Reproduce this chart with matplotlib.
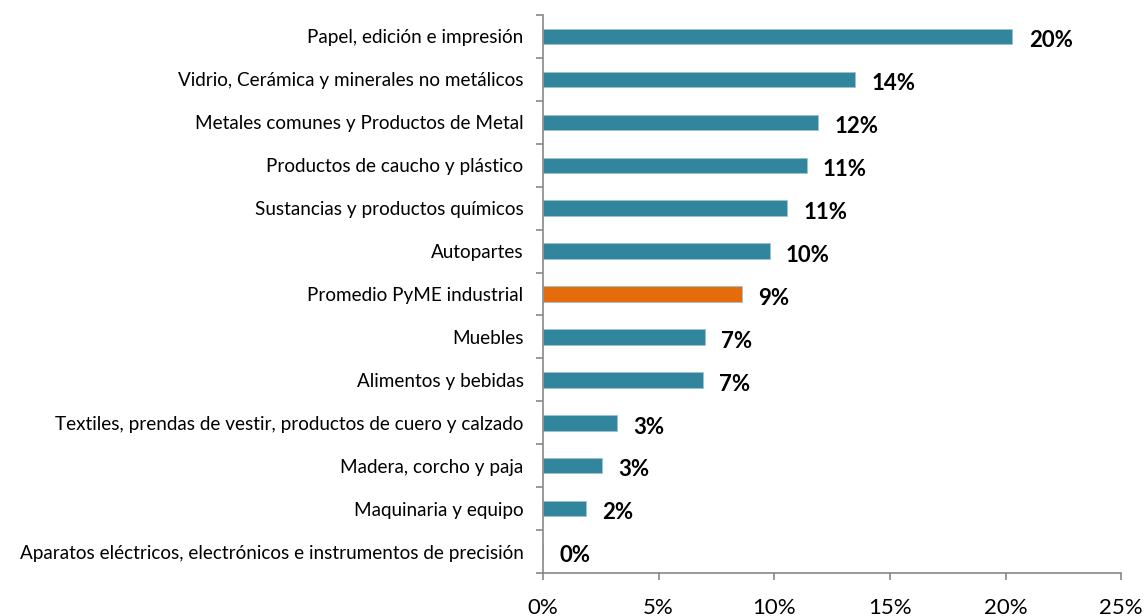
#!/usr/bin/env python
# -*- coding: utf-8 -*-

"""Barras horizontales por sector"""

from matplotlib import pyplot as plt
from matplotlib.ticker import FixedLocator, PercentFormatter
import numpy as np

sectores = [
	'Papel, edición e impresión',
	'Vidrio, Cerámica y minerales no metálicos',
	'Metales comunes y Productos de Metal',
	'Productos de caucho y plástico',
	'Sustancias y productos químicos',
	'Autopartes',
	'Promedio PyME industrial',
	'Muebles',
	'Alimentos y bebidas',
	'Textiles, prendas de vestir, productos de cuero y calzado',
	'Madera, corcho y paja',
	'Maquinaria y equipo',
	'Aparatos eléctricos, electrónicos e instrumentos de precisión',
]
valores = [20.3, 13.5, 11.9, 11.4, 10.55, 9.8, 8.6, 7.0, 6.9, 3.2, 2.55, 1.85, 0.0]
etiquetas = ['20%', '14%', '12%', '11%', '11%', '10%', '9%', '7%', '7%', '3%', '3%', '2%', '0%']
x_ticks = [0, 5, 10, 15, 20, 25]

azul = '#31859C'
naranja = '#E46C0A'
fuente = ['Lato', 'DejaVu Sans']

fig = plt.figure(figsize=(11.46, 6.16), dpi=100)
ax = fig.add_axes([0.4738, 0.0698, 0.5045, 0.9058])

y = np.arange(len(sectores))
colores = [naranja if s.startswith('Promedio') else azul for s in sectores]
ax.barh(y, valores, height=0.36, color=colores, edgecolor='#9DC3D0', linewidth=0.6)

for yi, v, t in zip(y, valores, etiquetas):
	ax.text(v + 0.7, yi + 0.1, t, ha='left', va='center', fontsize=16,
			fontweight='bold', family=fuente, color='black')

ax.set_xlim(0, 25)
ax.set_ylim(len(sectores) - 0.5, -0.5)
ax.xaxis.set_major_locator(FixedLocator(x_ticks))
ax.xaxis.set_major_formatter(PercentFormatter(decimals=0))
ax.set_yticks(y)
ax.set_yticklabels(sectores, family=fuente, fontsize=13.6)
ax.set_yticks(np.arange(-0.5, len(sectores)), minor=True)

for lado in ('top', 'right'):
	ax.spines[lado].set_visible(False)
for lado in ('left', 'bottom'):
	ax.spines[lado].set_color('#888888')
	ax.spines[lado].set_linewidth(1.2)

ax.tick_params(axis='y', which='major', length=0, pad=14)
ax.tick_params(axis='y', which='minor', length=5, color='#888888', width=1.2)
ax.tick_params(axis='x', length=5, color='#888888', width=1.2, pad=13, labelsize=16)
for lbl in ax.get_xticklabels():
	lbl.set_family(fuente)

plt.savefig('out.png', dpi=100)
